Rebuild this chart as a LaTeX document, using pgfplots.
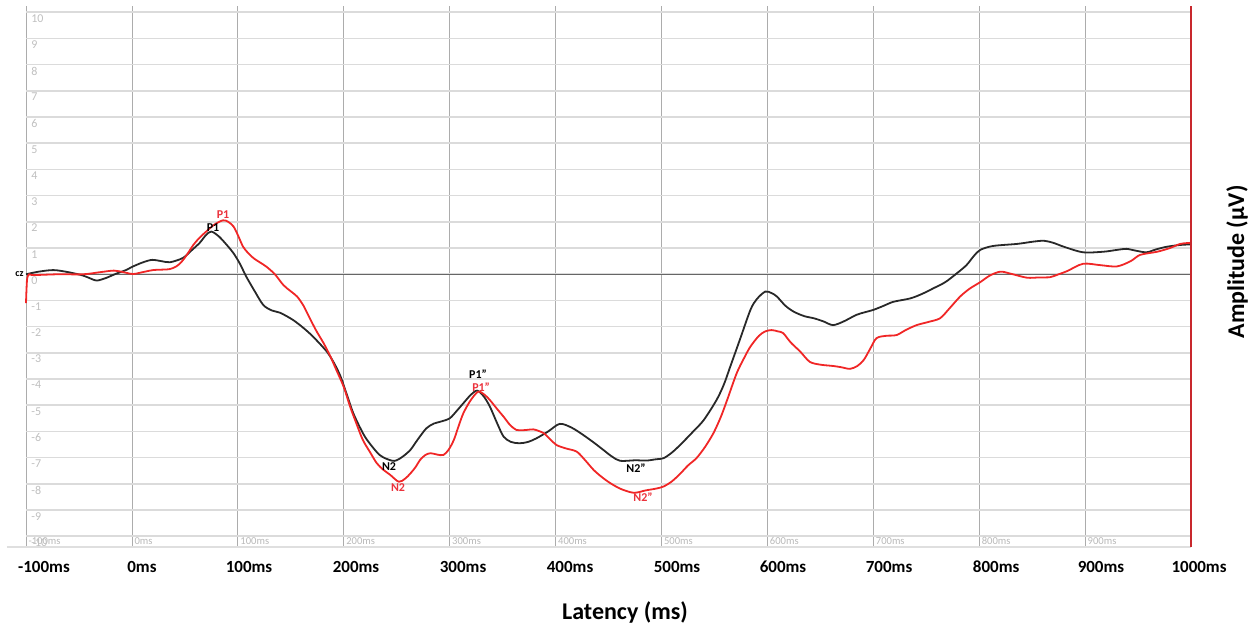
\documentclass[border=0pt]{standalone}
\usepackage{pgfplots}
\pgfplotsset{compat=1.18}
\usepackage{fontspec}
\setmainfont{Carlito}
\definecolor{curvered}{RGB}{240,38,38}
\definecolor{curveblack}{RGB}{40,40,40}
\definecolor{borderred}{RGB}{200,40,45}
\definecolor{labred}{RGB}{235,50,60}
\tikzset{
  bold tick/.style={font=\bfseries\fontsize{8.5}{10}\selectfont, inner sep=0pt, anchor=center},
  peak/.style={font=\bfseries\fontsize{6}{7}\selectfont, inner sep=0pt},
}
\begin{document}
\begin{tikzpicture}
\path[use as bounding box] (0,0) rectangle (626.5pt,314.5pt);
\begin{axis}[
  at={(13pt,41pt)}, anchor=south west,
  scale only axis, width=582.5pt, height=270.5pt,
  xmin=-100, xmax=1000, ymin=-10.41, ymax=10.24,
  clip=false,
  axis line style={draw=none},
  major tick length=0pt,
  xtick={-100,0,...,900},
  xticklabels={-100ms,0ms,100ms,200ms,300ms,400ms,500ms,600ms,700ms,800ms,900ms},
  xticklabel style={anchor=south west, font=\fontsize{5.3}{6}\selectfont, text=gray!55, inner sep=0.5pt, xshift=0.6pt, yshift=0.4pt},
  ytick={-10,-9,...,10},
  yticklabels={-10,-9,-8,-7,-6,-5,-4,-3,-2,-1,0,1,2,3,4,5,6,7,8,9,10},
  yticklabel style={anchor=north west, font=\fontsize{6}{7}\selectfont, text=gray!50, inner sep=0.5pt, xshift=2pt, yshift=-0.4pt},
  xmajorgrids, ymajorgrids,
  x grid style={gray!65, line width=0.4pt},
  y grid style={gray!28, line width=0.8pt},
]
\draw[gray!25, line width=0.8pt] (axis cs:-118,-10.41) -- (axis cs:1000,-10.41);
\draw[black!60, line width=0.5pt] (axis cs:-100,0) -- (axis cs:1000,0);

\addplot[curveblack, line width=0.9pt, smooth, tension=0.5] coordinates {
(-100,0) (-88,0.1) (-74,0.16) (-60,0.08) (-46,-0.05) (-38,-0.18) (-33,-0.24) (-25,-0.15) (-15,0.02) (-5,0.17) (0,0.28)
(10,0.45) (19,0.55) (28,0.5) (36,0.46) (48,0.62) (56,0.9) (64,1.2) (70,1.5) (75,1.63) (82,1.45)
(90,1.1) (96,0.8) (102,0.4) (108,-0.09) (116,-0.65) (124,-1.17) (132,-1.38) (140,-1.47) (152,-1.74)
(162,-2.05) (171,-2.38) (184,-2.95) (191,-3.4) (197,-3.9) (203,-4.6) (209,-5.3) (216,-5.9) (222,-6.32)
(234,-6.9) (245,-7.11) (250,-7.1) (256,-6.95) (263,-6.7) (270,-6.3) (278,-5.88) (285,-5.7) (291,-5.63)
(300,-5.5) (307,-5.2) (313,-4.92) (320,-4.6) (326,-4.44) (332,-4.65) (338,-5.05) (345,-5.7) (351,-6.2)
(358,-6.4) (366,-6.45) (374,-6.4) (382,-6.26) (393,-6.0) (404,-5.71) (415,-5.85) (426,-6.13) (436,-6.42)
(445,-6.7) (453,-6.95) (461,-7.12) (475,-7.1) (486,-7.11) (495,-7.06) (502,-7.02) (510,-6.8) (518,-6.5)
(530,-6.0) (540,-5.56) (552,-4.8) (559,-4.2) (565,-3.52) (574,-2.5) (584,-1.36) (590,-0.95) (598,-0.66)
(604,-0.72) (609,-0.85) (617,-1.2) (625,-1.43) (635,-1.6) (644,-1.68) (653,-1.8) (662,-1.94) (672,-1.8)
(684,-1.55) (692,-1.45) (700,-1.36) (710,-1.2) (719,-1.05) (735,-0.92) (746,-0.75) (757,-0.53) (768,-0.3)
(779,0.04) (788,0.35) (795,0.7) (801,0.93) (813,1.08) (836,1.16) (850,1.24) (861,1.28) (870,1.2)
(880,1.05) (898,0.84) (917,0.86) (930,0.93) (939,0.97) (948,0.9) (958,0.84) (967,0.95) (977,1.05)
(990,1.12) (1000,1.14)
};

\addplot[curvered, line width=0.9pt, smooth, tension=0.5] coordinates {
(-100,-1.1) (-99,-0.2) (-97,0) (-93,-0.03) (-70,0.0) (-46,0.0) (-30,0.08) (-17,0.14) (-8,0.08) (1,0.01)
(10,0.08) (20,0.16) (30,0.18) (36,0.2) (42,0.3) (47,0.48) (52,0.75) (58,1.12) (64,1.4) (71,1.66)
(78,1.9) (86,2.06) (91,2.0) (96,1.82) (100,1.5) (105,1.05) (110,0.8) (115,0.61) (121,0.45) (127,0.29)
(135,0.0) (143,-0.41) (150,-0.65) (156,-0.85) (162,-1.2) (168,-1.68) (174,-2.15) (181,-2.63) (187,-3.1)
(193,-3.65) (200,-4.3) (206,-5.05) (212,-5.7) (218,-6.32) (225,-6.8) (231,-7.2) (237,-7.45) (244,-7.66)
(252,-7.92) (258,-7.8) (263,-7.6) (268,-7.35) (272,-7.09) (277,-6.9) (282,-6.83) (288,-6.88) (294,-6.9)
(299,-6.7) (304,-6.32) (308,-5.85) (313,-5.3) (320,-4.8) (327,-4.48) (333,-4.6) (338,-4.8) (345,-5.15)
(351,-5.44) (357,-5.75) (363,-5.94) (370,-5.95) (379,-5.92) (384,-5.98) (389,-6.07) (395,-6.3) (401,-6.52)
(410,-6.65) (420,-6.77) (428,-7.1) (436,-7.47) (444,-7.75) (452,-7.98) (462,-8.2) (474,-8.34) (485,-8.25)
(495,-8.18) (502,-8.1) (510,-7.9) (518,-7.6) (525,-7.3) (533,-7.02) (541,-6.6) (549,-6.07) (556,-5.45)
(562,-4.8) (571,-3.78) (578,-3.2) (584,-2.76) (592,-2.35) (598,-2.18) (604,-2.13) (610,-2.18) (615,-2.25)
(622,-2.6) (631,-2.95) (640,-3.34) (650,-3.45) (662,-3.5) (670,-3.55) (678,-3.61) (685,-3.5) (691,-3.27)
(697,-2.85) (703,-2.44) (712,-2.35) (722,-2.32) (731,-2.12) (741,-1.94) (752,-1.82) (763,-1.68) (772,-1.3)
(782,-0.85) (791,-0.55) (801,-0.3) (810,-0.05) (820,0.1) (830,0.02) (845,-0.13) (857,-0.12) (867,-0.11)
(875,0.0) (883,0.12) (898,0.4) (914,0.35) (930,0.3) (943,0.5) (952,0.74) (968,0.86) (980,1.0)
(990,1.16) (1000,1.2)
};

\draw[borderred, line width=1pt] (axis cs:1000,-10.41) -- (axis cs:1000,10.24);

\node[anchor=east, font=\bfseries\fontsize{5}{6}\selectfont, inner sep=1pt] at (axis cs:-100,0) {cz};

\node[peak, text=black] at (axis cs:76.6,1.77) {P1};
\node[peak, text=labred] at (axis cs:86,2.26) {P1};
\node[peak, text=black] at (axis cs:326.8,-3.80) {P1"};
\node[peak, text=labred] at (axis cs:329.7,-4.30) {P1"};
\node[peak, text=black] at (axis cs:242.8,-7.35) {N2};
\node[peak, text=labred] at (axis cs:251.3,-8.16) {N2};
\node[peak, text=black] at (axis cs:476,-7.39) {N2"};
\node[peak, text=labred] at (axis cs:482.6,-8.50) {N2"};

\node[bold tick] at (axis cs:-83,-11.17) {-100ms};
\node[bold tick] at (axis cs:9.5,-11.17) {0ms};
\node[bold tick] at (axis cs:110.6,-11.17) {100ms};
\node[bold tick] at (axis cs:211.6,-11.17) {200ms};
\node[bold tick] at (axis cs:312.7,-11.17) {300ms};
\node[bold tick] at (axis cs:413.7,-11.17) {400ms};
\node[bold tick] at (axis cs:514.7,-11.17) {500ms};
\node[bold tick] at (axis cs:614.8,-11.17) {600ms};
\node[bold tick] at (axis cs:714.9,-11.17) {700ms};
\node[bold tick] at (axis cs:816,-11.17) {800ms};
\node[bold tick] at (axis cs:915,-11.17) {900ms};
\node[bold tick] at (axis cs:1007.6,-11.17) {1000ms};

\node[font=\bfseries\fontsize{12}{14}\selectfont, inner sep=0pt] at (axis cs:465.6,-12.89) {Latency (ms)};
\node[font=\bfseries\fontsize{12}{14}\selectfont, inner sep=0pt, rotate=90] at (axis cs:1043.5,0.47) {Amplitude (µV)};
\end{axis}
\end{tikzpicture}
\end{document}
